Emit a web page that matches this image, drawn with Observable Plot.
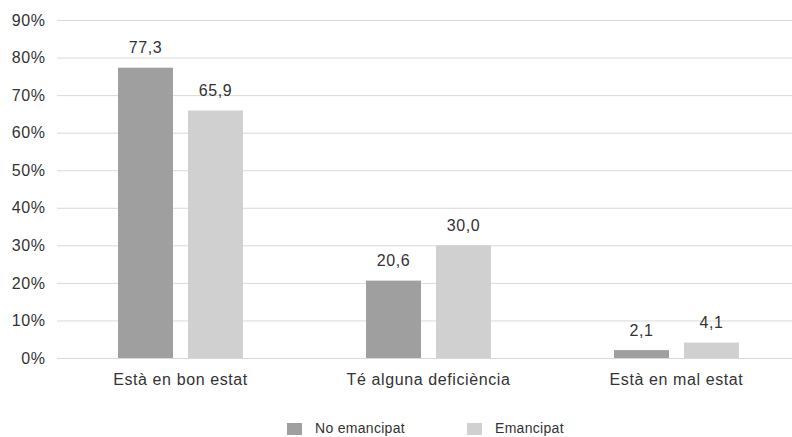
<!DOCTYPE html>
<html>
<head>
<meta charset="utf-8">
<script src="https://cdn.jsdelivr.net/npm/d3@7"></script>
<script src="https://cdn.jsdelivr.net/npm/@observablehq/plot@0.6"></script>
<style>
  body { margin: 0; background: #fff; font-family: "Liberation Sans", Arial, sans-serif; }
  #chart { position: relative; width: 792px; height: 437px; overflow: hidden; }
  #legend { position: absolute; left: 0; top: 405px; width: 792px; height: 32px; font-size: 14px; color: #333; letter-spacing: 0.3px; }
  .sw { position: absolute; top: 18px; width: 15px; height: 12px; }
  .lb { position: absolute; top: 16px; line-height: 15px; }
</style>
</head>
<body>
<div id="chart"></div>
<script>
const categories = ["Està en bon estat", "Té alguna deficiència", "Està en mal estat"];
const series = ["No emancipat", "Emancipat"];
const noEmancipat = [77.3, 20.6, 2.1];
const emancipat = [65.9, 30.0, 4.1];
const yTicks = [0, 10, 20, 30, 40, 50, 60, 70, 80, 90];
const colors = ["#9f9f9f", "#d0d0d0"];

const fmt = v => v.toFixed(1).replace(".", ",");
const rowsA = categories.map((c, i) => ({cat: c, value: noEmancipat[i]}));
const rowsB = categories.map((c, i) => ({cat: c, value: emancipat[i]}));

const plot = Plot.plot({
  width: 792,
  height: 405,
  marginTop: 20,
  marginLeft: 57,
  marginRight: 0,
  marginBottom: 47,
  style: {fontFamily: "'Liberation Sans', Arial, sans-serif", fontSize: "16px", color: "#333", background: "#fff"},
  x: {domain: categories, range: [56, 800], padding: 0, label: null},
  y: {domain: [0, 90], label: null},
  marks: [
    Plot.ruleY(yTicks, {stroke: "#d9d9d9", strokeWidth: 1}),
    Plot.axisY({ticks: yTicks, tickSize: 0, tickPadding: 12, tickFormat: d => d + "%", fontSize: 16, fill: "#333", label: null}),
    Plot.axisX({tickSize: 0, tickPadding: 15, fontSize: 16, fill: "#333", label: null}),
    Plot.barY(rowsA, {x: "cat", y: "value", fill: colors[0], insetLeft: 62, insetRight: 131}),
    Plot.barY(rowsB, {x: "cat", y: "value", fill: colors[1], insetLeft: 132, insetRight: 61}),
    Plot.text(rowsA, {x: "cat", y: "value", text: d => fmt(d.value), dx: -35, dy: -15, lineAnchor: "bottom", fontSize: 16, fill: "#333"}),
    Plot.text(rowsB, {x: "cat", y: "value", text: d => fmt(d.value), dx: 35, dy: -15, lineAnchor: "bottom", fontSize: 16, fill: "#333"})
  ]
});
const chart = document.getElementById("chart");
chart.appendChild(plot);
plot.style.letterSpacing = "0.6px";

const legend = document.createElement("div");
legend.id = "legend";
const pos = [[287, 315], [467, 495]];
series.forEach((s, i) => {
  const sw = document.createElement("div");
  sw.className = "sw";
  sw.style.left = pos[i][0] + "px";
  sw.style.background = colors[i];
  const lb = document.createElement("div");
  lb.className = "lb";
  lb.style.left = pos[i][1] + "px";
  lb.textContent = s;
  legend.appendChild(sw);
  legend.appendChild(lb);
});
chart.appendChild(legend);
</script>
</body>
</html>
